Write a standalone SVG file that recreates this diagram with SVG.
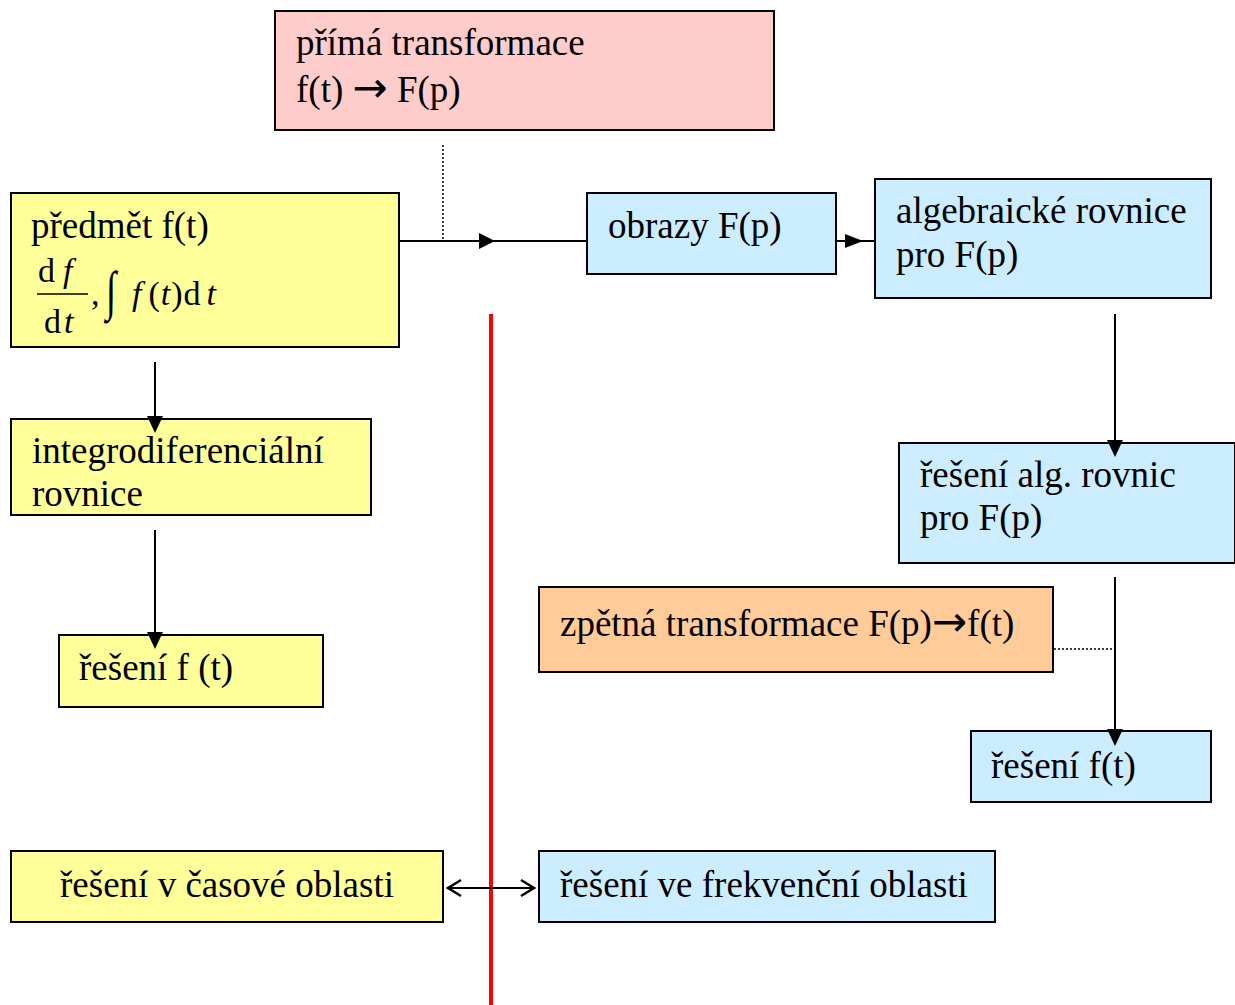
<svg xmlns="http://www.w3.org/2000/svg" width="1235" height="1005" viewBox="0 0 1235 1005">
<style>
.b{stroke:#000;stroke-width:2}
.t{font-family:"Liberation Serif","Times New Roman",serif;font-size:37px;fill:#000}
.m{font-family:"Liberation Serif","Times New Roman",serif;font-size:34px;fill:#000}
.i{font-style:italic}
.c{stroke:#000;stroke-width:2;fill:none}
.d{stroke:#000;stroke-width:1.5;stroke-dasharray:2 2;fill:none}
.h{fill:#000}
.o{fill:none;stroke:#000;stroke-width:2.5}
.ar{font-family:"DejaVu Sans",sans-serif;font-size:42px}
</style>
<line x1="491" y1="314" x2="491" y2="1005" stroke="#FF0000" stroke-width="4"/>
<g id="prima">
<rect class="b" x="275" y="11" width="499" height="119" fill="#FFCCCC"/>
<text class="t" x="296" y="55">přímá transformace</text>
<text class="t" x="296" y="102">f(t) <tspan class="ar">→</tspan> F(p)</text>
</g>
<g id="predmet">
<rect class="b" x="11" y="193" width="388" height="154" fill="#FFFF99"/>
<text class="t" x="31" y="238">předmět f(t)</text>
<text class="m" x="38" y="282">d<tspan class="i" dx="8">f</tspan></text>
<line x1="37" y1="294" x2="88" y2="294" stroke="#000" stroke-width="1.5"/>
<text class="m" x="44" y="333">d<tspan class="i" dx="3">t</tspan></text>
<text class="m" x="91" y="305">,</text>
<text class="m" transform="translate(106,309) scale(1.1,1.6)">∫</text>
<text class="m" x="132" y="305"><tspan class="i">f</tspan><tspan dx="7">(</tspan><tspan class="i" dx="1">t</tspan><tspan dx="1">)</tspan><tspan dx="1">d</tspan><tspan class="i" dx="6">t</tspan></text>
</g>
<g id="obrazy">
<rect class="b" x="587" y="193" width="249" height="81" fill="#CCECFF"/>
<text class="t" x="608" y="238">obrazy F(p)</text>
</g>
<g id="algebraicke">
<rect class="b" x="875" y="179" width="336" height="119" fill="#CCECFF"/>
<text class="t" x="896" y="223">algebraické rovnice</text>
<text class="t" x="896" y="267">pro F(p)</text>
</g>
<g id="reseni-alg">
<rect class="b" x="899" y="443" width="336" height="120" fill="#CCECFF"/>
<text class="t" x="920" y="487">řešení alg. rovnic</text>
<text class="t" x="920" y="530">pro F(p)</text>
</g>
<g id="zpetna">
<rect class="b" x="539" y="587" width="514" height="85" fill="#FFCC99"/>
<text class="t" x="560" y="636">zpětná transformace F(p)<tspan class="ar">→</tspan>f(t)</text>
</g>
<g id="reseni-ft-right">
<rect class="b" x="971" y="731" width="240" height="71" fill="#CCECFF"/>
<text class="t" x="991" y="778">řešení f(t)</text>
</g>
<g id="integro">
<rect class="b" x="11" y="419" width="360" height="96" fill="#FFFF99"/>
<text class="t" x="32" y="463">integrodiferenciální</text>
<text class="t" x="32" y="506">rovnice</text>
</g>
<g id="reseni-ft-left">
<rect class="b" x="59" y="635" width="264" height="72" fill="#FFFF99"/>
<text class="t" x="79" y="680">řešení f (t)</text>
</g>
<g id="casova">
<rect class="b" x="11" y="851" width="432" height="71" fill="#FFFF99"/>
<text class="t" x="227" y="897" text-anchor="middle">řešení v časové oblasti</text>
</g>
<g id="frekvencni">
<rect class="b" x="539" y="851" width="456" height="71" fill="#CCECFF"/>
<text class="t" x="560" y="897">řešení ve frekvenční oblasti</text>
</g>
<g id="connectors">
<line class="d" x1="443" y1="145" x2="443" y2="241"/>
<line class="c" x1="400" y1="241" x2="586" y2="241"/>
<polygon class="h" points="479,233 495,241 479,249"/>
<line class="c" x1="837" y1="241" x2="874" y2="241"/>
<polygon class="h" points="845,234 863,241 845,248"/>
<line class="c" x1="1115" y1="314" x2="1115" y2="445"/>
<polygon class="h" points="1107,440 1115,457 1123,440"/>
<line class="c" x1="1115" y1="577" x2="1115" y2="735"/>
<polygon class="h" points="1107,729 1115,746 1123,729"/>
<line class="d" x1="1054" y1="649" x2="1115" y2="649"/>
<line class="c" x1="155" y1="362" x2="155" y2="420"/>
<polygon class="h" points="147,416 155,433 163,416"/>
<line class="c" x1="155" y1="530" x2="155" y2="638"/>
<polygon class="h" points="147,632 155,649 163,632"/>
<line class="c" x1="448" y1="888" x2="534" y2="888"/>
<polyline class="o" points="461,880 448,888 461,896"/>
<polyline class="o" points="521,880 534,888 521,896"/>
</g>
</svg>
